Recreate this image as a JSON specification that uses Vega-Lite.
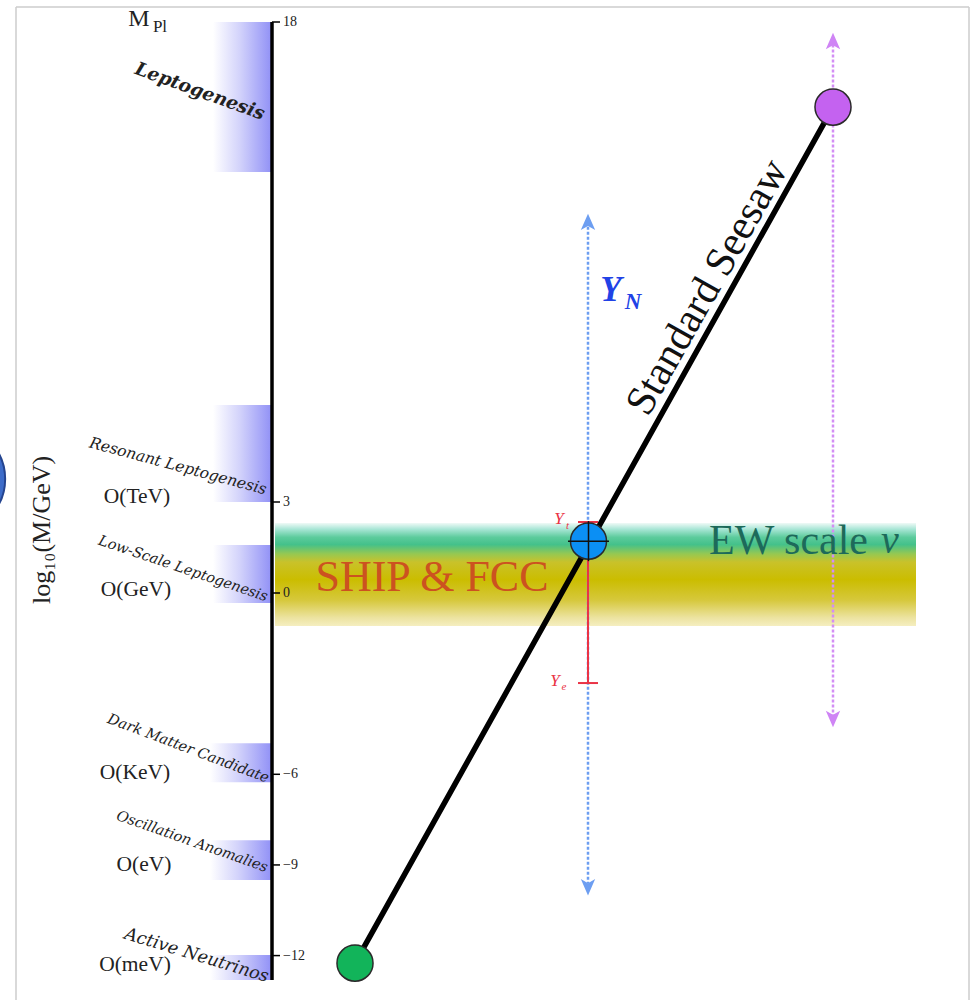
{
  "$schema": "https://vega.github.io/schema/vega-lite/v6.json",
  "width": 974,
  "height": 1000,
  "autosize": "none",
  "padding": 0,
  "background": "white",
  "config": {"view": {"stroke": null}},
  "encoding": {
    "x": {"field": "x", "type": "quantitative", "scale": {"domain": [0, 97.4], "range": [0, 974], "nice": false, "zero": false}, "axis": null},
    "y": {"field": "y", "type": "quantitative", "scale": {"domain": [-13.47, 0, 3, 18, 18.69], "range": [1000, 593, 502, 22, 0], "nice": false, "zero": false}, "axis": null}
  },
  "layer": [
    {
      "data": {"values": [
        {"x": 1.6, "y": 18.47, "x2": 96.9, "y2": 18.47},
        {"x": 1.6, "y": 18.47, "x2": 1.6, "y2": -13.47},
        {"x": 96.9, "y": 18.47, "x2": 96.9, "y2": -13.47}
      ]},
      "mark": {"type": "rule", "stroke": "#cdcdcd", "strokeWidth": 1.5},
      "encoding": {"x2": {"field": "x2"}, "y2": {"field": "y2"}}
    },
    {
      "data": {"values": [
        {"region": "Leptogenesis", "x": 21.3, "x2": 27.2, "y": 18, "y2": 13.31},
        {"region": "Resonant Leptogenesis", "x": 21.3, "x2": 27.2, "y": 6.03, "y2": 3},
        {"region": "Low-Scale Leptogenesis", "x": 21.3, "x2": 27.2, "y": 1.58, "y2": -0.33},
        {"region": "Dark Matter Candidate", "x": 21.0, "x2": 27.2, "y": -4.97, "y2": -6.26},
        {"region": "Oscillation Anomalies", "x": 21.0, "x2": 27.2, "y": -8.18, "y2": -9.5},
        {"region": "Active Neutrinos", "x": 21.0, "x2": 27.2, "y": -11.98, "y2": -12.81}
      ]},
      "mark": {"type": "rect", "strokeWidth": 0, "fill": {"gradient": "linear", "x1": 0, "y1": 0, "x2": 1, "y2": 0, "stops": [
        {"offset": 0, "color": "#ffffff"},
        {"offset": 0.45, "color": "#d3d3fb"},
        {"offset": 1, "color": "#9090f6"}
      ]}},
      "encoding": {"x2": {"field": "x2"}, "y2": {"field": "y2"}}
    },
    {
      "data": {"values": [{"region": "EW / SHIP & FCC", "x": 27.5, "x2": 91.6, "y": 2.31, "y2": -1.09}]},
      "mark": {"type": "rect", "strokeWidth": 0, "fill": {"gradient": "linear", "x1": 0, "y1": 0, "x2": 0, "y2": 1, "stops": [
        {"offset": 0, "color": "#f0faf7"},
        {"offset": 0.06, "color": "#a9e6d6"},
        {"offset": 0.14, "color": "#5ccb9c"},
        {"offset": 0.21, "color": "#44c18a"},
        {"offset": 0.3, "color": "#95c852"},
        {"offset": 0.38, "color": "#c9c22a"},
        {"offset": 0.55, "color": "#cbbd00"},
        {"offset": 0.75, "color": "#d6c83c"},
        {"offset": 0.92, "color": "#ece3a0"},
        {"offset": 1, "color": "#f5eec0"}
      ]}},
      "encoding": {"x2": {"field": "x2"}, "y2": {"field": "y2"}}
    },
    {
      "data": {"values": [{"x": 27.2, "y": 18, "x2": 27.2, "y2": -12.81}]},
      "mark": {"type": "rule", "stroke": "#000000", "strokeWidth": 3.5},
      "encoding": {"x2": {"field": "x2"}, "y2": {"field": "y2"}}
    },
    {
      "data": {"values": [
        {"x": 27.2, "x2": 28.0, "y": 18, "label": "18"},
        {"x": 27.2, "x2": 28.0, "y": 3, "label": "3"},
        {"x": 27.2, "x2": 28.0, "y": 0, "label": "0"},
        {"x": 27.2, "x2": 28.0, "y": -6, "label": "−6"},
        {"x": 27.2, "x2": 28.0, "y": -9, "label": "−9"},
        {"x": 27.2, "x2": 28.0, "y": -12, "label": "−12"}
      ]},
      "layer": [
        {"mark": {"type": "rule", "stroke": "#000000", "strokeWidth": 1.5}, "encoding": {"x2": {"field": "x2"}}},
        {"mark": {"type": "text", "align": "left", "baseline": "middle", "dx": 11, "font": "Liberation Serif", "fontSize": 14, "fill": "#222222"}, "encoding": {"text": {"field": "label"}}}
      ]
    },
    {
      "data": {"values": [{"x": 13.9, "y": 18.09, "t": "M"}]},
      "mark": {"type": "text", "align": "center", "baseline": "middle", "font": "Liberation Serif", "fontSize": 24, "fill": "#222222"},
      "encoding": {"text": {"field": "t"}}
    },
    {
      "data": {"values": [{"x": 16.0, "y": 17.85, "t": "Pl"}]},
      "mark": {"type": "text", "align": "center", "baseline": "middle", "font": "Liberation Serif", "fontSize": 17, "fill": "#222222"},
      "encoding": {"text": {"field": "t"}}
    },
    {
      "data": {"values": [{"x": 20.0, "y": 15.84, "t": "Leptogenesis"}]},
      "mark": {"type": "text", "align": "center", "baseline": "middle", "angle": 20, "font": "DejaVu Serif", "fontStyle": "italic", "fontWeight": "bold", "fontSize": 18.5, "fill": "#222222"},
      "encoding": {"text": {"field": "t"}}
    },
    {
      "data": {"values": [{"x": 17.8, "y": 4.125, "t": "Resonant Leptogenesis"}]},
      "mark": {"type": "text", "align": "center", "baseline": "middle", "angle": 15, "font": "DejaVu Serif", "fontStyle": "italic", "fontSize": 15.5, "fill": "#222222"},
      "encoding": {"text": {"field": "t"}}
    },
    {
      "data": {"values": [{"x": 18.3, "y": 0.79, "t": "Low-Scale Leptogenesis"}]},
      "mark": {"type": "text", "align": "center", "baseline": "middle", "angle": 18.7, "font": "DejaVu Serif", "fontStyle": "italic", "fontSize": 14.5, "fill": "#222222"},
      "encoding": {"text": {"field": "t"}}
    },
    {
      "data": {"values": [{"x": 18.8, "y": -5.16, "t": "Dark Matter Candidate"}]},
      "mark": {"type": "text", "align": "center", "baseline": "middle", "angle": 20.6, "font": "DejaVu Serif", "fontStyle": "italic", "fontSize": 14.5, "fill": "#222222"},
      "encoding": {"text": {"field": "t"}}
    },
    {
      "data": {"values": [{"x": 19.2, "y": -8.24, "t": "Oscillation Anomalies"}]},
      "mark": {"type": "text", "align": "center", "baseline": "middle", "angle": 19.3, "font": "DejaVu Serif", "fontStyle": "italic", "fontSize": 14.5, "fill": "#222222"},
      "encoding": {"text": {"field": "t"}}
    },
    {
      "data": {"values": [{"x": 19.65, "y": -12.0, "t": "Active Neutrinos"}]},
      "mark": {"type": "text", "align": "center", "baseline": "middle", "angle": 17, "font": "DejaVu Serif", "fontStyle": "italic", "fontSize": 17.5, "fill": "#222222"},
      "encoding": {"text": {"field": "t"}}
    },
    {
      "data": {"values": [
        {"x": 13.7, "y": 3.16, "t": "O(TeV)"},
        {"x": 13.6, "y": 0.1, "t": "O(GeV)"},
        {"x": 13.5, "y": -5.96, "t": "O(KeV)"},
        {"x": 14.4, "y": -9.0, "t": "O(eV)"},
        {"x": 13.5, "y": -12.31, "t": "O(meV)"}
      ]},
      "mark": {"type": "text", "align": "center", "baseline": "middle", "font": "Liberation Serif", "fontSize": 21.5, "fill": "#222222"},
      "encoding": {"text": {"field": "t"}}
    },
    {
      "data": {"values": [{"x": 4.2, "y": 2.08, "t": "log₁₀(M/GeV)"}]},
      "mark": {"type": "text", "align": "center", "baseline": "middle", "angle": 270, "font": "Liberation Serif", "fontSize": 26, "fill": "#222222"},
      "encoding": {"text": {"field": "t"}}
    },
    {
      "data": {"values": [{"x": 58.8, "y": 11.6, "x2": 58.8, "y2": -9.6}]},
      "mark": {"type": "rule", "stroke": "#6d9ef1", "strokeWidth": 2.5, "strokeDash": [3, 2]},
      "encoding": {"x2": {"field": "x2"}, "y2": {"field": "y2"}}
    },
    {
      "data": {"values": [{"x": 83.3, "y": 17.3, "x2": 83.3, "y2": -4.05}]},
      "mark": {"type": "rule", "stroke": "#d38ef5", "strokeWidth": 2.5, "strokeDash": [3, 2]},
      "encoding": {"x2": {"field": "x2"}, "y2": {"field": "y2"}}
    },
    {
      "data": {"values": [{"x": 58.8, "y": 11.69}]},
      "mark": {"type": "point", "filled": true, "opacity": 1, "size": 420, "fill": "#6d9ef1", "strokeWidth": 0, "shape": "M0,-1L0.7,0.6L0,0.2L-0.7,0.6Z"}
    },
    {
      "data": {"values": [{"x": 58.8, "y": -9.67}]},
      "mark": {"type": "point", "filled": true, "opacity": 1, "size": 420, "fill": "#6d9ef1", "strokeWidth": 0, "shape": "M0,1L0.7,-0.6L0,-0.2L-0.7,-0.6Z"}
    },
    {
      "data": {"values": [{"x": 83.3, "y": 17.34}]},
      "mark": {"type": "point", "filled": true, "opacity": 1, "size": 420, "fill": "#cf84f5", "strokeWidth": 0, "shape": "M0,-1L0.7,0.6L0,0.2L-0.7,0.6Z"}
    },
    {
      "data": {"values": [{"x": 83.3, "y": -4.1}]},
      "mark": {"type": "point", "filled": true, "opacity": 1, "size": 420, "fill": "#cf84f5", "strokeWidth": 0, "shape": "M0,1L0.7,-0.6L0,-0.2L-0.7,-0.6Z"}
    },
    {
      "data": {"values": [{"x": 35.5, "y": -12.25, "x2": 83.3, "y2": 15.34}]},
      "mark": {"type": "rule", "stroke": "#000000", "strokeWidth": 5.5, "strokeCap": "round"},
      "encoding": {"x2": {"field": "x2"}, "y2": {"field": "y2"}}
    },
    {
      "data": {"values": [
        {"x": 58.8, "y": 2.34, "x2": 58.8, "y2": -2.98},
        {"x": 57.8, "y": 2.34, "x2": 59.8, "y2": 2.34},
        {"x": 57.8, "y": -2.98, "x2": 59.8, "y2": -2.98}
      ]},
      "mark": {"type": "rule", "stroke": "#ea3346", "strokeWidth": 2},
      "encoding": {"x2": {"field": "x2"}, "y2": {"field": "y2"}}
    },
    {
      "data": {"values": [
        {"name": "light", "x": 35.5, "y": -12.25},
        {"name": "heavy", "x": 83.3, "y": 15.34},
        {"name": "ew", "x": 58.85, "y": 1.71}
      ]},
      "mark": {"type": "point", "filled": true, "opacity": 1, "size": 1300, "stroke": "#2a2a2a", "strokeWidth": 1.5},
      "encoding": {"fill": {"field": "name", "type": "nominal", "scale": {"domain": ["light", "heavy", "ew"], "range": ["#12b45a", "#c462f0", "#0b8ff4"]}, "legend": null}}
    },
    {
      "data": {"values": [
        {"x": 56.8, "y": 1.71, "x2": 60.9, "y2": 1.71},
        {"x": 58.85, "y": 2.37, "x2": 58.85, "y2": 1.05}
      ]},
      "mark": {"type": "rule", "stroke": "#111111", "strokeWidth": 1.5},
      "encoding": {"x2": {"field": "x2"}, "y2": {"field": "y2"}}
    },
    {
      "data": {"values": [{"x": 43.2, "y": 0.49, "t": "SHIP & FCC"}]},
      "mark": {"type": "text", "align": "center", "baseline": "middle", "font": "Liberation Serif", "fontSize": 44, "fill": "#cc5220"},
      "encoding": {"text": {"field": "t"}}
    },
    {
      "data": {"values": [{"x": 86.8, "y": 1.71, "t": "EW scale"}]},
      "mark": {"type": "text", "align": "right", "baseline": "middle", "font": "Liberation Serif", "fontSize": 42, "fill": "#1d6a5a"},
      "encoding": {"text": {"field": "t"}}
    },
    {
      "data": {"values": [{"x": 88.1, "y": 1.71, "t": "v"}]},
      "mark": {"type": "text", "align": "left", "baseline": "middle", "font": "Liberation Serif", "fontStyle": "italic", "fontSize": 40, "fill": "#1d6a5a"},
      "encoding": {"text": {"field": "t"}}
    },
    {
      "data": {"values": [{"x": 70.7, "y": 9.72, "t": "Standard Seesaw"}]},
      "mark": {"type": "text", "align": "center", "baseline": "middle", "angle": -60.5, "font": "Liberation Serif", "fontSize": 42, "fill": "#111111"},
      "encoding": {"text": {"field": "t"}}
    },
    {
      "data": {"values": [{"x": 61.1, "y": 9.63, "t": "Y"}]},
      "mark": {"type": "text", "align": "center", "baseline": "middle", "font": "Liberation Serif", "fontStyle": "italic", "fontWeight": "bold", "fontSize": 35, "fill": "#2142e6"},
      "encoding": {"text": {"field": "t"}}
    },
    {
      "data": {"values": [{"x": 63.3, "y": 9.25, "t": "N"}]},
      "mark": {"type": "text", "align": "center", "baseline": "middle", "font": "Liberation Serif", "fontStyle": "italic", "fontWeight": "bold", "fontSize": 23, "fill": "#2142e6"},
      "encoding": {"text": {"field": "t"}}
    },
    {
      "data": {"values": [{"x": 55.9, "y": 2.44, "t": "Y"}, {"x": 55.5, "y": -2.91, "t": "Y"}]},
      "mark": {"type": "text", "align": "center", "baseline": "middle", "font": "Liberation Serif", "fontStyle": "italic", "fontSize": 17, "fill": "#ea3346"},
      "encoding": {"text": {"field": "t"}}
    },
    {
      "data": {"values": [{"x": 56.75, "y": 2.21, "t": "t"}, {"x": 56.4, "y": -3.11, "t": "e"}]},
      "mark": {"type": "text", "align": "center", "baseline": "middle", "font": "Liberation Serif", "fontStyle": "italic", "fontSize": 11, "fill": "#ea3346"},
      "encoding": {"text": {"field": "t"}}
    },
    {
      "data": {"values": [{"x": -4.8, "y": 3.72}]},
      "mark": {"type": "point", "filled": true, "opacity": 1, "size": 11300, "fill": "#3d6cc9", "stroke": "#24448f", "strokeWidth": 2}
    }
  ]
}
